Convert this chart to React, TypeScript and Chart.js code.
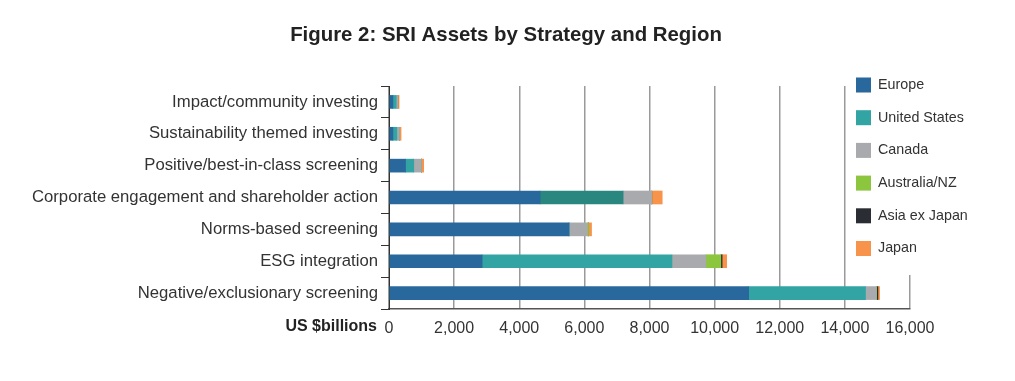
import React, { useEffect, useRef } from "react";
import { Chart, registerables } from "chart.js";

Chart.register(...registerables);

const categories = [
  "Impact/community investing",
  "Sustainability themed investing",
  "Positive/best-in-class screening",
  "Corporate engagement and shareholder action",
  "Norms-based screening",
  "ESG integration",
  "Negative/exclusionary screening",
];

const seriesNames = ["Europe", "United States", "Canada", "Australia/NZ", "Asia ex Japan", "Japan"];

const europe = [120, 120, 510, 4640, 5530, 2860, 11045];
const unitedStates = [100, 120, 250, 2550, 0, 5830, 3590];
const canada = [50, 80, 235, 880, 560, 1040, 330];
const australiaNZ = [0, 0, 0, 0, 40, 460, 10];
const asiaExJapan = [0, 0, 0, 0, 0, 40, 40];
const japan = [40, 50, 70, 320, 90, 140, 50];

const xTicks = [0, 2000, 4000, 6000, 8000, 10000, 12000, 14000, 16000];

const colors = ["#28689c", "#32a4a3", "#a9aaad", "#8cc63f", "#2a2d33", "#f7934b"];
const usCorporateColor = "#2a877f";

const FONT = "'Liberation Sans', Arial, Helvetica, sans-serif";

const overlayPlugin = {
  id: "overlay",
  afterDraw(chart: any) {
    const ctx = chart.ctx as CanvasRenderingContext2D;
    ctx.save();
    // title
    ctx.fillStyle = "#222";
    ctx.font = `bold 20.4px ${FONT}`;
    ctx.textAlign = "center";
    ctx.textBaseline = "middle";
    ctx.fillText("Figure 2: SRI Assets by Strategy and Region", 506, 35);
    // axis unit label
    ctx.font = `bold 16px ${FONT}`;
    ctx.textAlign = "right";
    ctx.fillStyle = "#222";
    ctx.fillText("US $billions", 377, 327);
    // legend
    ctx.fillStyle = "#ffffff";
    ctx.fillRect(848, 64, 167, 211);
    ctx.font = `14.3px ${FONT}`;
    ctx.textAlign = "left";
    chart.data.datasets.forEach((ds: any, i: number) => {
      const cy = 85 + i * 32.7;
      ctx.fillStyle = colors[i];
      ctx.fillRect(856, cy - 7.5, 15, 15);
      ctx.fillStyle = "#333";
      ctx.fillText(ds.label, 878, cy);
    });
    ctx.restore();
  },
};

export default function App() {
  const ref = useRef<HTMLCanvasElement | null>(null);
  useEffect(() => {
    document.body.style.margin = "0";
    if (!ref.current) return;
    const seriesData = [europe, unitedStates, canada, australiaNZ, asiaExJapan, japan];
    const chart = new Chart(ref.current, {
      type: "bar",
      data: {
        labels: categories,
        datasets: seriesNames.map((name, i) => ({
          label: name,
          data: seriesData[i],
          backgroundColor:
            i === 1 ? categories.map((_, j) => (j === 3 ? usCorporateColor : colors[1])) : colors[i],
          borderWidth: 0,
          barThickness: 13,
        })),
      },
      options: {
        indexAxis: "y",
        responsive: false,
        animation: false,
        devicePixelRatio: 1,
        layout: { padding: { left: 0, right: 105, top: 86, bottom: 0 } },
        plugins: {
          legend: { display: false },
          title: { display: false },
          tooltip: { enabled: false },
        },
        scales: {
          x: {
            type: "linear",
            stacked: true,
            min: 0,
            max: 16000,
            afterBuildTicks: (scale: any) => {
              scale.ticks = xTicks.map((v) => ({ value: v }));
            },
            afterFit: (scale: any) => {
              scale.height = 72;
            },
            grid: { color: "#9a9a9a", lineWidth: 1.5, drawTicks: false },
            border: { color: "#555", width: 1.5 },
            ticks: {
              color: "#333",
              font: { size: 16, family: FONT },
              padding: 10,
              callback: (v: any) => Number(v).toLocaleString("en-US"),
            },
          },
          y: {
            type: "category",
            stacked: true,
            offset: true,
            afterFit: (scale: any) => {
              scale.width = 389;
            },
            grid: { offset: true, drawOnChartArea: false, drawTicks: true, tickLength: 8, color: "#333" },
            border: { color: "#333", width: 1 },
            ticks: { color: "#333", font: { size: 16.7, family: FONT }, padding: 3 },
          },
        },
      },
      plugins: [overlayPlugin],
    });
    return () => chart.destroy();
  }, []);
  return (
    <div style={{ width: 1015, height: 381, background: "#fff" }}>
      <canvas ref={ref} width={1015} height={381} style={{ display: "block" }} />
    </div>
  );
}
